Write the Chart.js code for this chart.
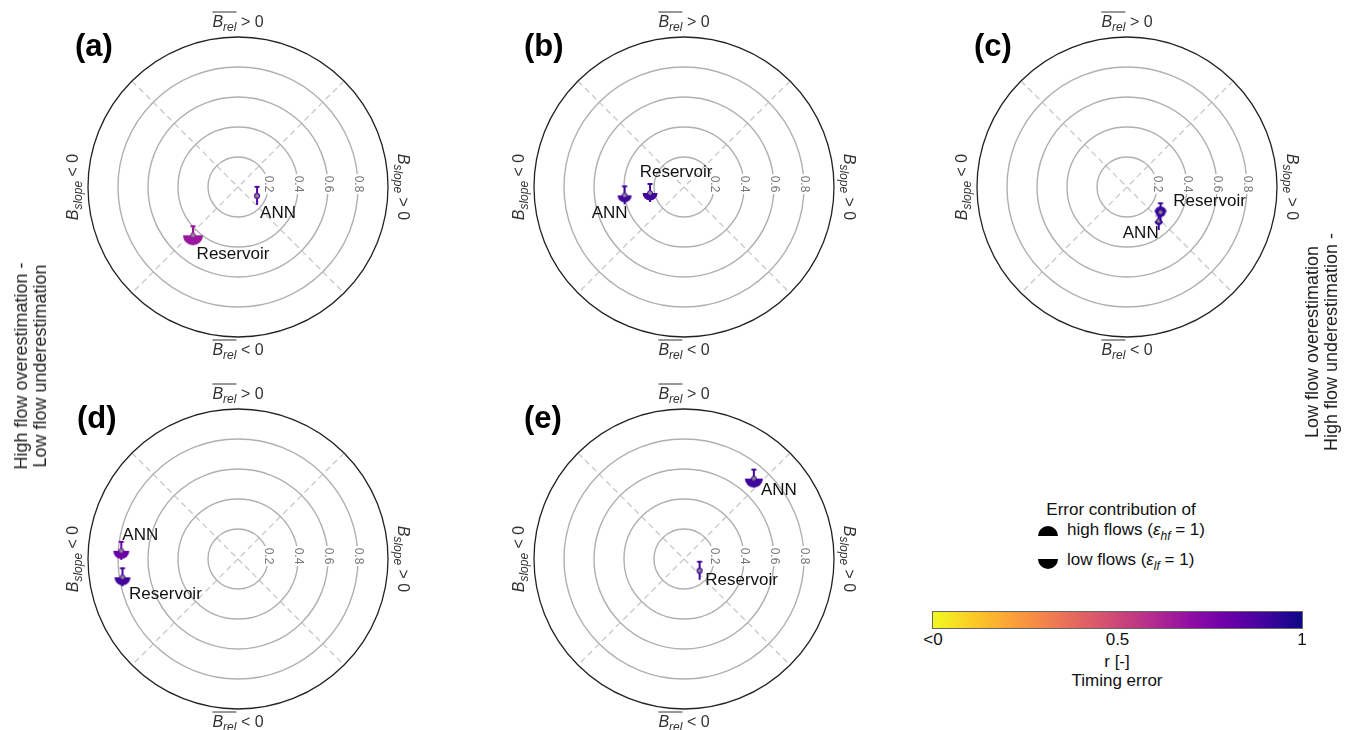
<!DOCTYPE html>
<html>
<head>
<meta charset="utf-8">
<script src="https://cdn.jsdelivr.net/npm/chart.js"></script>
<style>
  body { margin: 0; width: 1348px; height: 730px; overflow: hidden; background: #fff; position: relative;
         font-family: "Liberation Sans", Arial, sans-serif; color: #111; }
  canvas.panel { position: absolute; }
  .txt { position: absolute; white-space: nowrap; font-size: 17px; line-height: 20px; transform: translate(-50%, -50%); }
  .side { position: absolute; white-space: nowrap; font-size: 18px; line-height: 19px; text-align: center;
          transform: translate(-50%, -50%) rotate(-90deg); color: #222; }
  .leg { position: absolute; white-space: nowrap; font-size: 17px; line-height: 20px; transform: translateY(-50%); }
  #cbar { position: absolute; left: 932px; top: 611px; width: 369px; height: 16px; border: 1px solid #666; }
</style>
</head>
<body>
<canvas id="p0" class="panel" width="400" height="370" style="left:38px;top:2px"></canvas>
<canvas id="p1" class="panel" width="400" height="370" style="left:484px;top:2px"></canvas>
<canvas id="p2" class="panel" width="400" height="370" style="left:927px;top:2px"></canvas>
<canvas id="p3" class="panel" width="400" height="370" style="left:38px;top:374px"></canvas>
<canvas id="p4" class="panel" width="400" height="370" style="left:484px;top:374px"></canvas>

<div class="side" style="left:31px;top:366px">High flow overestimation -<br>Low flow underestimation</div>
<div class="side" style="left:1322px;top:342px">Low flow overestimation<br>High flow underestimation -</div>

<div class="txt" style="left:1121px;top:510px">Error contribution of</div>
<canvas id="icons" width="26" height="56" style="position:absolute;left:1035px;top:519px"></canvas>
<div class="leg" style="left:1067px;top:533px">high flows (<i>ε<sub style="font-size:12px">hf</sub></i> = 1)</div>
<div class="leg" style="left:1067px;top:563px">low flows (<i>ε<sub style="font-size:12px">lf</sub></i> = 1)</div>

<div id="cbar"></div>
<div id="cbarTicks"></div>
<div class="txt" style="left:1117px;top:662px">r [-]</div>
<div class="txt" style="left:1117px;top:681px">Timing error</div>

<script>
// panels and models
const panelTags = ['(a)', '(b)', '(c)', '(d)', '(e)'];
const models = ['Reservoir', 'ANN'];

// diagnostic efficiency (radius) per panel
const radiusRes = [0.44, 0.23, 0.28, 0.78, 0.13];
const radiusAnn = [0.14, 0.40, 0.31, 0.78, 0.71];
// direction in degrees, clockwise from top (B_rel > 0)
const phiRes = [223, 260, 127, 261, 127];
const phiAnn = [115, 262, 137, 274, 41];
// correlation r (timing error), coloured with reversed plasma
const corrRes = [0.67, 0.90, 0.92, 0.90, 0.90];
const corrAnn = [0.85, 0.90, 0.92, 0.80, 0.90];
// error contribution of high and low flows
const hfRes = [0.0, 0.1, 0.6, 0.1, 0.3];
const lfRes = [1.0, 0.75, 0.5, 0.8, 0.3];
const hfAnn = [0.3, 0.1, 0.2, 0.1, 0.1];
const lfAnn = [0.3, 0.7, 0.4, 0.8, 0.9];

const ringTicks = [0.2, 0.4, 0.6, 0.8];
const cbarTicks = ['<0', '0.5', '1'];
const cbarTickPos = [0, 0.5, 1];

// where the model names sit relative to their glyph
const annotOffset = {
    Reservoir: [[40, 19], [26, -21], [49, -11], [43, 17], [42, 10]],
    ANN: [[21, 17], [-15, 18], [-18, 12], [19, -16], [25, 12]]
};
const tagShift = [-163, -160, -153, -161, -160];

const FONT = '"Liberation Sans", Arial, sans-serif';

const plasmaStops = [[13, 8, 135], [65, 4, 157], [106, 0, 168], [143, 13, 164], [177, 42, 144],
    [204, 71, 120], [225, 100, 98], [242, 132, 75], [252, 166, 54], [252, 206, 37], [240, 249, 33]];

function plasma(t) {
    t = Math.max(0, Math.min(1, t));
    const f = t * 10;
    const i = Math.min(9, Math.floor(f));
    const w = f - i;
    const a = plasmaStops[i], b = plasmaStops[i + 1];
    const c = a.map((v, k) => Math.round(v + (b[k] - v) * w));
    return `rgb(${c[0]},${c[1]},${c[2]})`;
}

function corrColor(r) {
    return plasma(1 - Math.max(0, Math.min(1, r)));
}

function makeGlyph(hf, lf, color) {
    const c = document.createElement('canvas');
    c.width = 28;
    c.height = 28;
    const g = c.getContext('2d');
    const m = 14, base = 10;
    g.fillStyle = color;
    g.strokeStyle = color;
    g.lineWidth = 2;
    g.beginPath();
    g.moveTo(m, m - 9);
    g.lineTo(m, m + 9);
    g.stroke();
    g.beginPath();
    g.moveTo(m - 2.5, m - 9);
    g.lineTo(m + 2.5, m - 9);
    g.stroke();
    if (hf > 0) {
        g.beginPath();
        g.arc(m, m, Math.max(2.5, hf * base), Math.PI, 2 * Math.PI);
        g.closePath();
        g.fill();
    }
    if (lf > 0) {
        g.beginPath();
        g.arc(m, m, Math.max(2.5, lf * base), 0, Math.PI);
        g.closePath();
        g.fill();
    }
    g.beginPath();
    g.arc(m, m, 2.4, 0, 2 * Math.PI);
    g.fillStyle = '#8c8c8c';
    g.fill();
    g.lineWidth = 1;
    g.strokeStyle = color;
    g.stroke();
    return c;
}

// label with italic B and subscript, drawn centred on (0,0)
function subLabel(ctx, sub, rest, overline) {
    ctx.font = 'italic 16px ' + FONT;
    const wB = ctx.measureText('B').width;
    ctx.font = 'italic 12px ' + FONT;
    const wS = ctx.measureText(sub).width;
    ctx.font = '16px ' + FONT;
    const wR = ctx.measureText(rest).width;
    let x = -(wB + wS + wR) / 2;
    const base = 5;
    ctx.fillStyle = '#333';
    ctx.textAlign = 'left';
    ctx.textBaseline = 'alphabetic';
    ctx.font = 'italic 16px ' + FONT;
    ctx.fillText('B', x, base);
    ctx.font = 'italic 12px ' + FONT;
    ctx.fillText(sub, x + wB, base + 4);
    ctx.font = '16px ' + FONT;
    ctx.fillText(rest, x + wB + wS, base);
    if (overline) {
        ctx.strokeStyle = '#333';
        ctx.lineWidth = 1;
        ctx.beginPath();
        ctx.moveTo(x, base - 15);
        ctx.lineTo(x + wB + wS, base - 15);
        ctx.stroke();
    }
}

const polarFrame = {
    id: 'polarFrame',
    beforeDatasetsDraw(chart) {
        const { ctx, scales: { x, y } } = chart;
        const cx = x.getPixelForValue(0), cy = y.getPixelForValue(0);
        const R = x.getPixelForValue(1) - cx;
        ctx.save();
        // dashed diagonals
        ctx.strokeStyle = '#c8c8c8';
        ctx.lineWidth = 1.3;
        ctx.setLineDash([6, 4]);
        const d = R * Math.SQRT1_2;
        ctx.beginPath();
        ctx.moveTo(cx - d, cy - d);
        ctx.lineTo(cx + d, cy + d);
        ctx.moveTo(cx + d, cy - d);
        ctx.lineTo(cx - d, cy + d);
        ctx.stroke();
        ctx.setLineDash([]);
        // rings
        ctx.strokeStyle = '#b0b0b0';
        ctx.lineWidth = 1.4;
        ringTicks.forEach(t => {
            ctx.beginPath();
            ctx.arc(cx, cy, t * R, 0, 2 * Math.PI);
            ctx.stroke();
        });
        ctx.strokeStyle = '#222';
        ctx.lineWidth = 1.3;
        ctx.beginPath();
        ctx.arc(cx, cy, R, 0, 2 * Math.PI);
        ctx.stroke();
        // ring labels
        ctx.font = '12px ' + FONT;
        ctx.textAlign = 'center';
        ctx.textBaseline = 'middle';
        ringTicks.forEach(t => {
            ctx.save();
            ctx.translate(cx + t * R, cy - 3);
            ctx.rotate(Math.PI / 2);
            ctx.fillStyle = '#fff';
            ctx.fillRect(-10, -6, 20, 12);
            ctx.fillStyle = '#777';
            ctx.fillText(t.toFixed(1), 0, 0);
            ctx.restore();
        });
        ctx.restore();
    },
    afterDatasetsDraw(chart, args, opts) {
        const { ctx, scales: { x, y } } = chart;
        const cx = x.getPixelForValue(0), cy = y.getPixelForValue(0);
        const R = x.getPixelForValue(1) - cx;
        ctx.save();
        // model names next to glyphs
        ctx.font = '17px ' + FONT;
        ctx.fillStyle = '#111';
        ctx.textAlign = 'center';
        ctx.textBaseline = 'middle';
        chart.data.datasets.forEach((ds, i) => {
            const pt = chart.getDatasetMeta(i).data[0];
            const off = annotOffset[ds.label][opts.panel];
            ctx.fillText(ds.label, pt.x + off[0], pt.y + off[1]);
        });
        // panel tag
        ctx.font = 'bold 31px ' + FONT;
        ctx.fillStyle = '#000';
        ctx.textAlign = 'left';
        ctx.fillText(panelTags[opts.panel], cx + tagShift[opts.panel], cy - 140);
        // direction labels
        ctx.save();
        ctx.translate(cx, cy - 165);
        subLabel(ctx, 'rel', ' > 0', true);
        ctx.restore();
        ctx.save();
        ctx.translate(cx, cy + 163);
        subLabel(ctx, 'rel', ' < 0', true);
        ctx.restore();
        ctx.save();
        ctx.translate(cx - R - 15, cy);
        ctx.rotate(-Math.PI / 2);
        subLabel(ctx, 'slope', ' < 0', false);
        ctx.restore();
        ctx.save();
        ctx.translate(cx + R + 15, cy);
        ctx.rotate(Math.PI / 2);
        subLabel(ctx, 'slope', ' > 0', false);
        ctx.restore();
        ctx.restore();
    }
};

function toXY(r, phi) {
    const a = phi * Math.PI / 180;
    return { x: r * Math.sin(a), y: r * Math.cos(a) };
}

panelTags.forEach((tag, p) => {
    const datasets = [
        {
            label: 'Reservoir',
            data: [toXY(radiusRes[p], phiRes[p])],
            pointStyle: [makeGlyph(hfRes[p], lfRes[p], corrColor(corrRes[p]))]
        },
        {
            label: 'ANN',
            data: [toXY(radiusAnn[p], phiAnn[p])],
            pointStyle: [makeGlyph(hfAnn[p], lfAnn[p], corrColor(corrAnn[p]))]
        }
    ];
    datasets.forEach(ds => {
        ds.pointRadius = 10;
        ds.clip = false;
    });
    new Chart(document.getElementById('p' + p), {
        type: 'scatter',
        data: { datasets: datasets },
        options: {
            responsive: false,
            animation: false,
            events: [],
            layout: { padding: { left: 50, right: 50, top: 35, bottom: 35 } },
            scales: {
                x: { display: false, min: -1, max: 1 },
                y: { display: false, min: -1, max: 1 }
            },
            plugins: {
                legend: { display: false },
                tooltip: { enabled: false },
                polarFrame: { panel: p }
            }
        },
        plugins: [polarFrame]
    });
});

// legend icons
(function () {
    const g = document.getElementById('icons').getContext('2d');
    g.fillStyle = '#000';
    g.beginPath();
    g.arc(13, 17, 10, Math.PI, 2 * Math.PI);
    g.closePath();
    g.fill();
    g.beginPath();
    g.arc(13, 40, 10, 0, Math.PI);
    g.closePath();
    g.fill();
})();

// colour bar
(function () {
    const stops = [];
    for (let i = 0; i <= 20; i++) {
        stops.push(`${plasma(1 - i / 20)} ${i * 5}%`);
    }
    document.getElementById('cbar').style.background = `linear-gradient(to right, ${stops.join(', ')})`;
    const holder = document.getElementById('cbarTicks');
    cbarTicks.forEach((t, i) => {
        const el = document.createElement('div');
        el.className = 'txt';
        el.style.left = (933 + cbarTickPos[i] * 369) + 'px';
        el.style.top = '640px';
        el.textContent = t;
        holder.appendChild(el);
    });
})();
</script>
</body>
</html>
